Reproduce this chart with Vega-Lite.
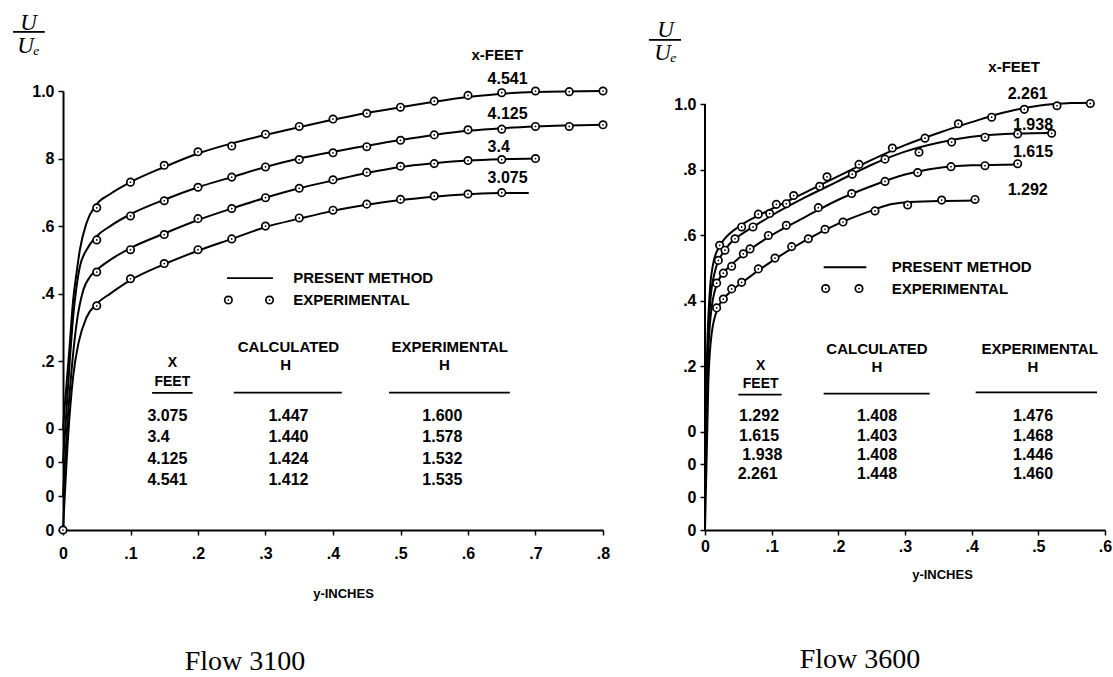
{
  "$schema": "https://vega.github.io/schema/vega-lite/v6.json",
  "background": "white",
  "padding": {"left": 12, "top": 11, "right": 2, "bottom": 2},
  "spacing": 102,
  "bounds": "flush",
  "config": {
    "view": {"stroke": null},
    "font": "Liberation Sans",
    "axis": {
      "grid": false,
      "domainColor": "black",
      "domainWidth": 2,
      "tickColor": "black",
      "tickWidth": 1.5,
      "tickSize": 5,
      "labelColor": "black",
      "labelFont": "Liberation Sans",
      "labelFontWeight": "bold",
      "labelFontSize": 16,
      "titleColor": "black"
    }
  },
  "hconcat": [
    {
      "width": 540,
      "height": 439,
      "title": {"text": "Flow 3100", "orient": "bottom", "anchor": "middle", "offset": 48, "dx": -88, "font": "Liberation Serif", "fontSize": 28, "fontWeight": "normal", "color": "black"},
      "encoding": {
        "x": {"field": "x", "type": "quantitative", "scale": {"domain": [0, 0.8], "nice": false, "zero": false},
          "axis": {"values": [0, 0.1, 0.2, 0.3, 0.4, 0.5, 0.6, 0.7, 0.8], "labelExpr": "datum.value == 0 ? '0' : replace(format(datum.value, '.1f'), '0.', '.')", "labelPadding": 10, "labelFlush": false, "title": "y-INCHES", "titleFont": "Liberation Sans", "titleFontWeight": "bold", "titleFontSize": 13, "titlePadding": 26, "titleX": 280}},
        "y": {"field": "y", "type": "quantitative", "scale": {"domain": [-0.3, 1.0], "nice": false, "zero": false},
          "axis": {"values": [-0.3, -0.2, -0.1, 0, 0.2, 0.4, 0.6, 0.8, 1.0], "labelExpr": "datum.value <= 0.001 ? '0' : (datum.value >= 0.999 ? '1.0' : (abs(datum.value - 0.8) < 0.001 ? '8' : replace(format(datum.value, '.1f'), '0.', '.')))", "labelPadding": 4, "labelFlush": false,
            "title": ["U", "Uₑ"], "titleAngle": 0, "titleAlign": "center", "titleBaseline": "alphabetic", "titleX": -35, "titleY": -62, "titleFont": "Liberation Serif", "titleFontStyle": "italic", "titleFontWeight": "normal", "titleFontSize": 23, "titleLineHeight": 23}}
      },
      "layer": [
        {
          "data": {"values": [
            {"c": "4.541", "x": 0, "y": 0}, {"c": "4.541", "x": 0.004, "y": 0.1}, {"c": "4.541", "x": 0.01, "y": 0.25}, {"c": "4.541", "x": 0.015, "y": 0.38}, {"c": "4.541", "x": 0.02, "y": 0.46}, {"c": "4.541", "x": 0.025, "y": 0.53}, {"c": "4.541", "x": 0.035, "y": 0.61}, {"c": "4.541", "x": 0.05, "y": 0.665}, {"c": "4.541", "x": 0.07, "y": 0.695}, {"c": "4.541", "x": 0.1, "y": 0.73}, {"c": "4.541", "x": 0.15, "y": 0.775}, {"c": "4.541", "x": 0.2, "y": 0.815}, {"c": "4.541", "x": 0.25, "y": 0.845}, {"c": "4.541", "x": 0.3, "y": 0.87}, {"c": "4.541", "x": 0.35, "y": 0.893}, {"c": "4.541", "x": 0.4, "y": 0.915}, {"c": "4.541", "x": 0.45, "y": 0.935}, {"c": "4.541", "x": 0.5, "y": 0.952}, {"c": "4.541", "x": 0.55, "y": 0.968}, {"c": "4.541", "x": 0.6, "y": 0.982}, {"c": "4.541", "x": 0.65, "y": 0.992}, {"c": "4.541", "x": 0.7, "y": 0.997}, {"c": "4.541", "x": 0.8, "y": 1.0},
            {"c": "4.125", "x": 0, "y": -0.1}, {"c": "4.125", "x": 0.005, "y": 0.05}, {"c": "4.125", "x": 0.01, "y": 0.2}, {"c": "4.125", "x": 0.015, "y": 0.33}, {"c": "4.125", "x": 0.02, "y": 0.42}, {"c": "4.125", "x": 0.025, "y": 0.48}, {"c": "4.125", "x": 0.035, "y": 0.53}, {"c": "4.125", "x": 0.05, "y": 0.57}, {"c": "4.125", "x": 0.07, "y": 0.6}, {"c": "4.125", "x": 0.1, "y": 0.635}, {"c": "4.125", "x": 0.15, "y": 0.678}, {"c": "4.125", "x": 0.2, "y": 0.715}, {"c": "4.125", "x": 0.25, "y": 0.745}, {"c": "4.125", "x": 0.3, "y": 0.775}, {"c": "4.125", "x": 0.35, "y": 0.8}, {"c": "4.125", "x": 0.4, "y": 0.82}, {"c": "4.125", "x": 0.45, "y": 0.838}, {"c": "4.125", "x": 0.5, "y": 0.855}, {"c": "4.125", "x": 0.55, "y": 0.87}, {"c": "4.125", "x": 0.6, "y": 0.882}, {"c": "4.125", "x": 0.65, "y": 0.89}, {"c": "4.125", "x": 0.7, "y": 0.895}, {"c": "4.125", "x": 0.8, "y": 0.9},
            {"c": "3.4", "x": 0, "y": -0.2}, {"c": "3.4", "x": 0.006, "y": 0.0}, {"c": "3.4", "x": 0.013, "y": 0.18}, {"c": "3.4", "x": 0.02, "y": 0.31}, {"c": "3.4", "x": 0.03, "y": 0.41}, {"c": "3.4", "x": 0.04, "y": 0.45}, {"c": "3.4", "x": 0.05, "y": 0.47}, {"c": "3.4", "x": 0.07, "y": 0.5}, {"c": "3.4", "x": 0.1, "y": 0.535}, {"c": "3.4", "x": 0.15, "y": 0.578}, {"c": "3.4", "x": 0.2, "y": 0.618}, {"c": "3.4", "x": 0.25, "y": 0.652}, {"c": "3.4", "x": 0.3, "y": 0.684}, {"c": "3.4", "x": 0.35, "y": 0.712}, {"c": "3.4", "x": 0.4, "y": 0.735}, {"c": "3.4", "x": 0.45, "y": 0.757}, {"c": "3.4", "x": 0.5, "y": 0.775}, {"c": "3.4", "x": 0.55, "y": 0.786}, {"c": "3.4", "x": 0.6, "y": 0.794}, {"c": "3.4", "x": 0.65, "y": 0.798}, {"c": "3.4", "x": 0.7, "y": 0.8},
            {"c": "3.075", "x": 0, "y": -0.3}, {"c": "3.075", "x": 0.008, "y": -0.01}, {"c": "3.075", "x": 0.015, "y": 0.154}, {"c": "3.075", "x": 0.023, "y": 0.254}, {"c": "3.075", "x": 0.035, "y": 0.33}, {"c": "3.075", "x": 0.05, "y": 0.37}, {"c": "3.075", "x": 0.07, "y": 0.4}, {"c": "3.075", "x": 0.1, "y": 0.44}, {"c": "3.075", "x": 0.15, "y": 0.487}, {"c": "3.075", "x": 0.2, "y": 0.527}, {"c": "3.075", "x": 0.25, "y": 0.562}, {"c": "3.075", "x": 0.3, "y": 0.597}, {"c": "3.075", "x": 0.35, "y": 0.622}, {"c": "3.075", "x": 0.4, "y": 0.645}, {"c": "3.075", "x": 0.45, "y": 0.663}, {"c": "3.075", "x": 0.5, "y": 0.677}, {"c": "3.075", "x": 0.55, "y": 0.687}, {"c": "3.075", "x": 0.6, "y": 0.694}, {"c": "3.075", "x": 0.65, "y": 0.698}, {"c": "3.075", "x": 0.69, "y": 0.698}
          ]},
          "mark": {"type": "line", "color": "black", "strokeWidth": 2, "interpolate": "monotone", "clip": false},
          "encoding": {"detail": {"field": "c"}}
        },
        {
          "data": {"values": [
            {"c": "4.541", "x": 0.05, "y": 0.654}, {"c": "4.541", "x": 0.1, "y": 0.73}, {"c": "4.541", "x": 0.15, "y": 0.78}, {"c": "4.541", "x": 0.2, "y": 0.82}, {"c": "4.541", "x": 0.25, "y": 0.837}, {"c": "4.541", "x": 0.3, "y": 0.872}, {"c": "4.541", "x": 0.35, "y": 0.895}, {"c": "4.541", "x": 0.4, "y": 0.917}, {"c": "4.541", "x": 0.45, "y": 0.934}, {"c": "4.541", "x": 0.5, "y": 0.952}, {"c": "4.541", "x": 0.55, "y": 0.97}, {"c": "4.541", "x": 0.6, "y": 0.987}, {"c": "4.541", "x": 0.65, "y": 0.995}, {"c": "4.541", "x": 0.7, "y": 1.0}, {"c": "4.541", "x": 0.75, "y": 0.998}, {"c": "4.541", "x": 0.8, "y": 1.0},
            {"c": "4.125", "x": 0.05, "y": 0.559}, {"c": "4.125", "x": 0.1, "y": 0.63}, {"c": "4.125", "x": 0.15, "y": 0.675}, {"c": "4.125", "x": 0.2, "y": 0.715}, {"c": "4.125", "x": 0.25, "y": 0.745}, {"c": "4.125", "x": 0.3, "y": 0.775}, {"c": "4.125", "x": 0.35, "y": 0.797}, {"c": "4.125", "x": 0.4, "y": 0.817}, {"c": "4.125", "x": 0.45, "y": 0.835}, {"c": "4.125", "x": 0.5, "y": 0.854}, {"c": "4.125", "x": 0.55, "y": 0.87}, {"c": "4.125", "x": 0.6, "y": 0.885}, {"c": "4.125", "x": 0.65, "y": 0.887}, {"c": "4.125", "x": 0.7, "y": 0.895}, {"c": "4.125", "x": 0.75, "y": 0.895}, {"c": "4.125", "x": 0.8, "y": 0.9},
            {"c": "3.4", "x": 0.05, "y": 0.464}, {"c": "3.4", "x": 0.1, "y": 0.53}, {"c": "3.4", "x": 0.15, "y": 0.575}, {"c": "3.4", "x": 0.2, "y": 0.622}, {"c": "3.4", "x": 0.25, "y": 0.652}, {"c": "3.4", "x": 0.3, "y": 0.684}, {"c": "3.4", "x": 0.35, "y": 0.712}, {"c": "3.4", "x": 0.4, "y": 0.737}, {"c": "3.4", "x": 0.45, "y": 0.759}, {"c": "3.4", "x": 0.5, "y": 0.777}, {"c": "3.4", "x": 0.55, "y": 0.785}, {"c": "3.4", "x": 0.6, "y": 0.794}, {"c": "3.4", "x": 0.65, "y": 0.797}, {"c": "3.4", "x": 0.7, "y": 0.8},
            {"c": "3.075", "x": 0, "y": -0.3}, {"c": "3.075", "x": 0.05, "y": 0.364}, {"c": "3.075", "x": 0.1, "y": 0.444}, {"c": "3.075", "x": 0.15, "y": 0.489}, {"c": "3.075", "x": 0.2, "y": 0.53}, {"c": "3.075", "x": 0.25, "y": 0.562}, {"c": "3.075", "x": 0.3, "y": 0.6}, {"c": "3.075", "x": 0.35, "y": 0.624}, {"c": "3.075", "x": 0.4, "y": 0.647}, {"c": "3.075", "x": 0.45, "y": 0.665}, {"c": "3.075", "x": 0.5, "y": 0.679}, {"c": "3.075", "x": 0.55, "y": 0.689}, {"c": "3.075", "x": 0.6, "y": 0.695}, {"c": "3.075", "x": 0.65, "y": 0.699},
            {"c": "legend", "x": 0.245, "y": 0.381}, {"c": "legend", "x": 0.306, "y": 0.381}
          ]},
          "layer": [
            {"mark": {"type": "point", "shape": "circle", "filled": true, "fill": "white", "stroke": "black", "strokeWidth": 1.7, "size": 55, "opacity": 1, "clip": false}},
            {"mark": {"type": "point", "shape": "circle", "filled": true, "color": "black", "size": 3, "opacity": 1, "clip": false}}
          ]
        },
        {
          "data": {"values": [
            {"x": 0.132, "x2": 0.192, "y": 0.106},
            {"x": 0.253, "x2": 0.413, "y": 0.107},
            {"x": 0.483, "x2": 0.662, "y": 0.107},
            {"x": 0.243, "x2": 0.311, "y": 0.446},
            {"x": -0.074, "x2": -0.027, "y": 1.175}
          ]},
          "mark": {"type": "rule", "color": "black", "strokeWidth": 1.8, "clip": false},
          "encoding": {"x2": {"field": "x2"}}
        },
        {
          "data": {"values": [
            {"x": 0.605, "y": 1.107, "t": "x-FEET", "k": "head"},
            {"x": 0.629, "y": 1.036, "t": "4.541", "k": "curve"},
            {"x": 0.629, "y": 0.932, "t": "4.125", "k": "curve"},
            {"x": 0.629, "y": 0.834, "t": "3.4", "k": "curve"},
            {"x": 0.629, "y": 0.742, "t": "3.075", "k": "curve"},
            {"x": 0.341, "y": 0.446, "t": "PRESENT METHOD", "k": "head"},
            {"x": 0.341, "y": 0.381, "t": "EXPERIMENTAL", "k": "head"},
            {"x": 0.125, "y": 0.038, "t": "3.075", "k": "curve"},
            {"x": 0.125, "y": -0.026, "t": "3.4", "k": "curve"},
            {"x": 0.125, "y": -0.09, "t": "4.125", "k": "curve"},
            {"x": 0.125, "y": -0.153, "t": "4.541", "k": "curve"}
          ]},
          "mark": {"type": "text", "align": "left", "baseline": "middle", "font": "Liberation Sans", "fontWeight": "bold", "color": "black"},
          "encoding": {"text": {"field": "t"}, "size": {"field": "k", "type": "nominal", "scale": {"domain": ["small", "head", "curve"], "range": [14, 16, 17]}, "legend": null}}
        },
        {
          "data": {"values": [
            {"x": 0.162, "y": 0.195, "t": "X", "k": "small"},
            {"x": 0.162, "y": 0.138, "t": "FEET", "k": "small"},
            {"x": 0.334, "y": 0.243, "t": "CALCULATED", "k": "head"},
            {"x": 0.33, "y": 0.189, "t": "H", "k": "head"},
            {"x": 0.573, "y": 0.243, "t": "EXPERIMENTAL", "k": "head"},
            {"x": 0.565, "y": 0.189, "t": "H", "k": "head"},
            {"x": 0.334, "y": 0.038, "t": "1.447", "k": "curve"},
            {"x": 0.334, "y": -0.026, "t": "1.440", "k": "curve"},
            {"x": 0.334, "y": -0.09, "t": "1.424", "k": "curve"},
            {"x": 0.334, "y": -0.153, "t": "1.412", "k": "curve"},
            {"x": 0.562, "y": 0.038, "t": "1.600", "k": "curve"},
            {"x": 0.562, "y": -0.026, "t": "1.578", "k": "curve"},
            {"x": 0.562, "y": -0.09, "t": "1.532", "k": "curve"},
            {"x": 0.562, "y": -0.153, "t": "1.535", "k": "curve"}
          ]},
          "mark": {"type": "text", "align": "center", "baseline": "middle", "font": "Liberation Sans", "fontWeight": "bold", "color": "black"},
          "encoding": {"text": {"field": "t"}, "size": {"field": "k", "type": "nominal", "scale": {"domain": ["small", "head", "curve"], "range": [14, 16, 17]}, "legend": null}}
        }
      ]
    },
    {
      "width": 400,
      "height": 439,
      "title": {"text": "Flow 3600", "orient": "bottom", "anchor": "middle", "offset": 65, "dx": -45, "font": "Liberation Serif", "fontSize": 28, "fontWeight": "normal", "color": "black"},
      "encoding": {
        "x": {"field": "x", "type": "quantitative", "scale": {"domain": [0, 0.6], "nice": false, "zero": false},
          "axis": {"values": [0, 0.1, 0.2, 0.3, 0.4, 0.5, 0.6], "labelExpr": "datum.value == 0 ? '0' : replace(format(datum.value, '.1f'), '0.', '.')", "labelPadding": 3, "labelFlush": false, "title": "y-INCHES", "titleFont": "Liberation Sans", "titleFontWeight": "bold", "titleFontSize": 13, "titlePadding": 14, "titleX": 237}},
        "y": {"field": "y", "type": "quantitative", "scale": {"domain": [-0.3, 1.04], "nice": false, "zero": false},
          "axis": {"values": [-0.3, -0.2, -0.1, 0, 0.2, 0.4, 0.6, 0.8, 1.0], "domain": false, "labelExpr": "datum.value <= 0.001 ? '0' : (datum.value >= 0.999 ? '1.0' : replace(format(datum.value, '.1f'), '0.', '.'))", "labelPadding": 4, "labelFlush": false,
            "title": ["U", "Uₑ"], "titleAngle": 0, "titleAlign": "center", "titleBaseline": "alphabetic", "titleX": -40, "titleY": -55, "titleFont": "Liberation Serif", "titleFontStyle": "italic", "titleFontWeight": "normal", "titleFontSize": 23, "titleLineHeight": 23}}
      },
      "layer": [
        {
          "data": {"values": [{"x": 0, "y": -0.3, "y2": 1.0}]},
          "mark": {"type": "rule", "color": "black", "strokeWidth": 2},
          "encoding": {"y2": {"field": "y2"}}
        },
        {
          "data": {"values": [
            {"c": "2.261", "x": 0, "y": 0}, {"c": "2.261", "x": 0.004, "y": 0.3}, {"c": "2.261", "x": 0.008, "y": 0.45}, {"c": "2.261", "x": 0.012, "y": 0.51}, {"c": "2.261", "x": 0.02, "y": 0.56}, {"c": "2.261", "x": 0.03, "y": 0.59}, {"c": "2.261", "x": 0.05, "y": 0.625}, {"c": "2.261", "x": 0.075, "y": 0.655}, {"c": "2.261", "x": 0.1, "y": 0.68}, {"c": "2.261", "x": 0.15, "y": 0.73}, {"c": "2.261", "x": 0.2, "y": 0.78}, {"c": "2.261", "x": 0.25, "y": 0.83}, {"c": "2.261", "x": 0.3, "y": 0.875}, {"c": "2.261", "x": 0.35, "y": 0.912}, {"c": "2.261", "x": 0.4, "y": 0.945}, {"c": "2.261", "x": 0.45, "y": 0.975}, {"c": "2.261", "x": 0.5, "y": 0.995}, {"c": "2.261", "x": 0.55, "y": 1.003}, {"c": "2.261", "x": 0.58, "y": 1.004},
            {"c": "1.938", "x": 0, "y": -0.1}, {"c": "1.938", "x": 0.004, "y": 0.25}, {"c": "1.938", "x": 0.008, "y": 0.4}, {"c": "1.938", "x": 0.015, "y": 0.49}, {"c": "1.938", "x": 0.025, "y": 0.54}, {"c": "1.938", "x": 0.04, "y": 0.58}, {"c": "1.938", "x": 0.06, "y": 0.61}, {"c": "1.938", "x": 0.08, "y": 0.635}, {"c": "1.938", "x": 0.1, "y": 0.66}, {"c": "1.938", "x": 0.15, "y": 0.715}, {"c": "1.938", "x": 0.2, "y": 0.765}, {"c": "1.938", "x": 0.25, "y": 0.815}, {"c": "1.938", "x": 0.3, "y": 0.855}, {"c": "1.938", "x": 0.35, "y": 0.882}, {"c": "1.938", "x": 0.4, "y": 0.9}, {"c": "1.938", "x": 0.45, "y": 0.909}, {"c": "1.938", "x": 0.52, "y": 0.912},
            {"c": "1.615", "x": 0, "y": -0.2}, {"c": "1.615", "x": 0.004, "y": 0.2}, {"c": "1.615", "x": 0.01, "y": 0.38}, {"c": "1.615", "x": 0.02, "y": 0.46}, {"c": "1.615", "x": 0.04, "y": 0.51}, {"c": "1.615", "x": 0.06, "y": 0.545}, {"c": "1.615", "x": 0.1, "y": 0.6}, {"c": "1.615", "x": 0.15, "y": 0.655}, {"c": "1.615", "x": 0.2, "y": 0.708}, {"c": "1.615", "x": 0.25, "y": 0.75}, {"c": "1.615", "x": 0.3, "y": 0.785}, {"c": "1.615", "x": 0.35, "y": 0.805}, {"c": "1.615", "x": 0.4, "y": 0.813}, {"c": "1.615", "x": 0.47, "y": 0.816},
            {"c": "1.292", "x": 0, "y": -0.3}, {"c": "1.292", "x": 0.005, "y": 0.15}, {"c": "1.292", "x": 0.01, "y": 0.3}, {"c": "1.292", "x": 0.02, "y": 0.38}, {"c": "1.292", "x": 0.04, "y": 0.43}, {"c": "1.292", "x": 0.06, "y": 0.462}, {"c": "1.292", "x": 0.1, "y": 0.52}, {"c": "1.292", "x": 0.15, "y": 0.583}, {"c": "1.292", "x": 0.2, "y": 0.635}, {"c": "1.292", "x": 0.25, "y": 0.675}, {"c": "1.292", "x": 0.28, "y": 0.695}, {"c": "1.292", "x": 0.3, "y": 0.7}, {"c": "1.292", "x": 0.35, "y": 0.704}, {"c": "1.292", "x": 0.405, "y": 0.706}
          ]},
          "mark": {"type": "line", "color": "black", "strokeWidth": 2, "interpolate": "monotone", "clip": false},
          "encoding": {"detail": {"field": "c"}}
        },
        {
          "data": {"values": [
            {"c": "2.261", "x": 0.022, "y": 0.569}, {"c": "2.261", "x": 0.055, "y": 0.625}, {"c": "2.261", "x": 0.08, "y": 0.664}, {"c": "2.261", "x": 0.107, "y": 0.694}, {"c": "2.261", "x": 0.133, "y": 0.721}, {"c": "2.261", "x": 0.183, "y": 0.778}, {"c": "2.261", "x": 0.231, "y": 0.816}, {"c": "2.261", "x": 0.281, "y": 0.866}, {"c": "2.261", "x": 0.33, "y": 0.896}, {"c": "2.261", "x": 0.38, "y": 0.94}, {"c": "2.261", "x": 0.43, "y": 0.96}, {"c": "2.261", "x": 0.479, "y": 0.984}, {"c": "2.261", "x": 0.528, "y": 0.995}, {"c": "2.261", "x": 0.578, "y": 1.002},
            {"c": "1.938", "x": 0.02, "y": 0.523}, {"c": "1.938", "x": 0.03, "y": 0.554}, {"c": "1.938", "x": 0.045, "y": 0.589}, {"c": "1.938", "x": 0.072, "y": 0.625}, {"c": "1.938", "x": 0.097, "y": 0.666}, {"c": "1.938", "x": 0.122, "y": 0.696}, {"c": "1.938", "x": 0.172, "y": 0.749}, {"c": "1.938", "x": 0.221, "y": 0.786}, {"c": "1.938", "x": 0.27, "y": 0.832}, {"c": "1.938", "x": 0.321, "y": 0.853}, {"c": "1.938", "x": 0.37, "y": 0.884}, {"c": "1.938", "x": 0.42, "y": 0.899}, {"c": "1.938", "x": 0.469, "y": 0.909}, {"c": "1.938", "x": 0.52, "y": 0.911},
            {"c": "1.615", "x": 0.0175, "y": 0.4535}, {"c": "1.615", "x": 0.0275, "y": 0.484}, {"c": "1.615", "x": 0.04, "y": 0.505}, {"c": "1.615", "x": 0.0575, "y": 0.543}, {"c": "1.615", "x": 0.0675, "y": 0.558}, {"c": "1.615", "x": 0.095, "y": 0.599}, {"c": "1.615", "x": 0.122, "y": 0.63}, {"c": "1.615", "x": 0.17, "y": 0.684}, {"c": "1.615", "x": 0.22, "y": 0.727}, {"c": "1.615", "x": 0.27, "y": 0.764}, {"c": "1.615", "x": 0.319, "y": 0.791}, {"c": "1.615", "x": 0.369, "y": 0.809}, {"c": "1.615", "x": 0.42, "y": 0.812}, {"c": "1.615", "x": 0.469, "y": 0.818},
            {"c": "1.292", "x": 0.0175, "y": 0.378}, {"c": "1.292", "x": 0.0275, "y": 0.405}, {"c": "1.292", "x": 0.04, "y": 0.436}, {"c": "1.292", "x": 0.055, "y": 0.456}, {"c": "1.292", "x": 0.08, "y": 0.497}, {"c": "1.292", "x": 0.105, "y": 0.53}, {"c": "1.292", "x": 0.13, "y": 0.565}, {"c": "1.292", "x": 0.155, "y": 0.589}, {"c": "1.292", "x": 0.18, "y": 0.618}, {"c": "1.292", "x": 0.207, "y": 0.64}, {"c": "1.292", "x": 0.255, "y": 0.674}, {"c": "1.292", "x": 0.304, "y": 0.692}, {"c": "1.292", "x": 0.355, "y": 0.707}, {"c": "1.292", "x": 0.405, "y": 0.709},
            {"c": "legend", "x": 0.181, "y": 0.437}, {"c": "legend", "x": 0.231, "y": 0.437}
          ]},
          "layer": [
            {"mark": {"type": "point", "shape": "circle", "filled": true, "fill": "white", "stroke": "black", "strokeWidth": 1.7, "size": 55, "opacity": 1, "clip": false}},
            {"mark": {"type": "point", "shape": "circle", "filled": true, "color": "black", "size": 3, "opacity": 1, "clip": false}}
          ]
        },
        {
          "data": {"values": [
            {"x": 0.05, "x2": 0.115, "y": 0.113},
            {"x": 0.178, "x2": 0.337, "y": 0.116},
            {"x": 0.406, "x2": 0.588, "y": 0.12},
            {"x": 0.178, "x2": 0.242, "y": 0.502},
            {"x": -0.084, "x2": -0.036, "y": 1.196}
          ]},
          "mark": {"type": "rule", "color": "black", "strokeWidth": 1.8, "clip": false},
          "encoding": {"x2": {"field": "x2"}}
        },
        {
          "data": {"values": [
            {"x": 0.425, "y": 1.114, "t": "x-FEET", "k": "head"},
            {"x": 0.454, "y": 1.03, "t": "2.261", "k": "curve"},
            {"x": 0.462, "y": 0.936, "t": "1.938", "k": "curve"},
            {"x": 0.462, "y": 0.854, "t": "1.615", "k": "curve"},
            {"x": 0.454, "y": 0.737, "t": "1.292", "k": "curve"},
            {"x": 0.28, "y": 0.502, "t": "PRESENT METHOD", "k": "head"},
            {"x": 0.28, "y": 0.437, "t": "EXPERIMENTAL", "k": "head"}
          ]},
          "mark": {"type": "text", "align": "left", "baseline": "middle", "font": "Liberation Sans", "fontWeight": "bold", "color": "black"},
          "encoding": {"text": {"field": "t"}, "size": {"field": "k", "type": "nominal", "scale": {"domain": ["small", "head", "curve"], "range": [14, 16, 17]}, "legend": null}}
        },
        {
          "data": {"values": [
            {"x": 0.0835, "y": 0.2, "t": "X", "k": "small"},
            {"x": 0.0835, "y": 0.146, "t": "FEET", "k": "small"},
            {"x": 0.258, "y": 0.254, "t": "CALCULATED", "k": "head"},
            {"x": 0.258, "y": 0.197, "t": "H", "k": "head"},
            {"x": 0.502, "y": 0.254, "t": "EXPERIMENTAL", "k": "head"},
            {"x": 0.492, "y": 0.197, "t": "H", "k": "head"},
            {"x": 0.081, "y": 0.047, "t": "1.292", "k": "curve"},
            {"x": 0.081, "y": -0.014, "t": "1.615", "k": "curve"},
            {"x": 0.086, "y": -0.07, "t": "1.938", "k": "curve"},
            {"x": 0.079, "y": -0.129, "t": "2.261", "k": "curve"},
            {"x": 0.258, "y": 0.047, "t": "1.408", "k": "curve"},
            {"x": 0.258, "y": -0.014, "t": "1.403", "k": "curve"},
            {"x": 0.258, "y": -0.07, "t": "1.408", "k": "curve"},
            {"x": 0.258, "y": -0.129, "t": "1.448", "k": "curve"},
            {"x": 0.492, "y": 0.047, "t": "1.476", "k": "curve"},
            {"x": 0.492, "y": -0.014, "t": "1.468", "k": "curve"},
            {"x": 0.492, "y": -0.07, "t": "1.446", "k": "curve"},
            {"x": 0.492, "y": -0.129, "t": "1.460", "k": "curve"}
          ]},
          "mark": {"type": "text", "align": "center", "baseline": "middle", "font": "Liberation Sans", "fontWeight": "bold", "color": "black"},
          "encoding": {"text": {"field": "t"}, "size": {"field": "k", "type": "nominal", "scale": {"domain": ["small", "head", "curve"], "range": [14, 16, 17]}, "legend": null}}
        }
      ]
    }
  ]
}
